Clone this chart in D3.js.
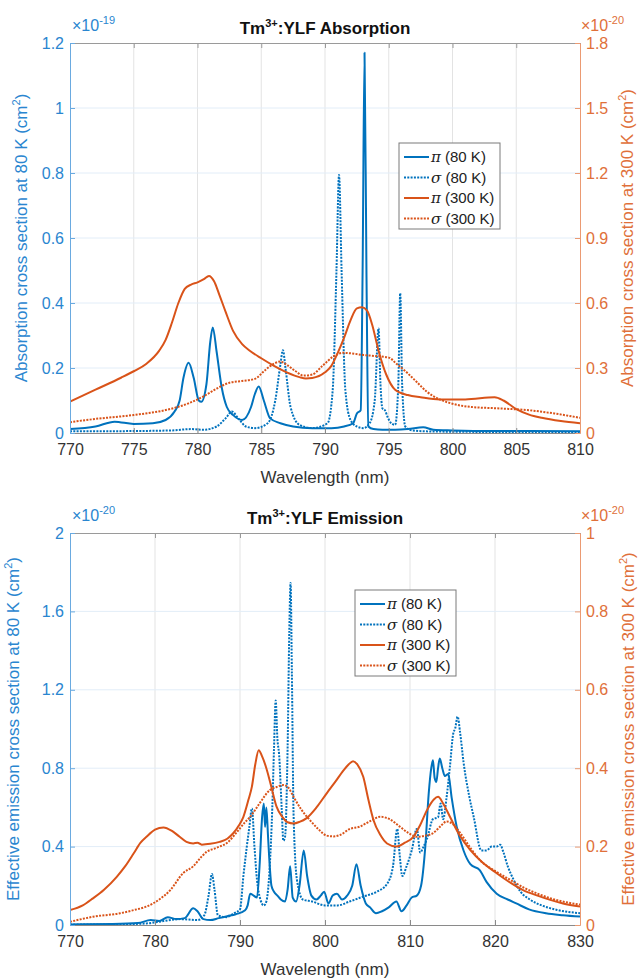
<!DOCTYPE html>
<html>
<head>
<meta charset="utf-8">
<script src="https://cdn.jsdelivr.net/npm/d3@7"></script>
<style>
  body { margin: 0; background: #fff; }
  svg { display: block; font-family: "Liberation Sans", Arial, Helvetica, sans-serif; }
</style>
</head>
<body>
<div id="chart-area"></div>
<script>
// ---------- absorption (top) ----------
// pi 80 K, left axis, x1e-19 cm^2
const absPi80Wl = [770, 772, 773.5, 775, 776.5, 777.5, 778.2, 778.6, 778.9, 779.3, 779.7, 780.1, 780.3, 780.7, 781.0, 781.2, 781.5, 781.9, 782.3, 782.8, 783.5, 784.2, 784.5, 784.8, 785.2, 785.7, 786.5, 787.5, 789, 790.5, 791.5, 792.2, 792.5, 792.8, 792.95, 793.1, 793.25, 793.4, 793.8, 794.5, 795.5, 796.5, 797.7, 798.5, 800, 803, 806, 810]
const absPi80 = [0.012, 0.02, 0.035, 0.028, 0.03, 0.04, 0.066, 0.1, 0.17, 0.216, 0.17, 0.1, 0.096, 0.15, 0.28, 0.325, 0.25, 0.14, 0.08, 0.055, 0.04, 0.08, 0.12, 0.143, 0.1, 0.045, 0.03, 0.02, 0.015, 0.015, 0.02, 0.03, 0.06, 0.07, 0.5, 1.17, 0.5, 0.02, 0.012, 0.01, 0.01, 0.012, 0.018, 0.01, 0.008, 0.006, 0.006, 0.005]

// sigma 80 K, left axis
const absSig80Wl = [770, 775, 778, 779.5, 780.5, 781.5, 782.2, 782.7, 783.2, 783.8, 784.5, 785.5, 786.1, 786.5, 786.7, 786.9, 787.3, 788, 789, 790.2, 790.6, 790.9, 791.1, 791.3, 791.6, 792, 792.5, 793, 793.5, 793.9, 794.2, 794.35, 794.5, 794.7, 794.9, 795.2, 795.5, 795.75, 795.9, 796.05, 796.3, 796.8, 798, 800, 805, 810]
const absSig80 = [0.005, 0.006, 0.008, 0.012, 0.01, 0.02, 0.045, 0.066, 0.045, 0.02, 0.015, 0.03, 0.1, 0.21, 0.255, 0.2, 0.08, 0.025, 0.015, 0.03, 0.13, 0.5, 0.794, 0.5, 0.13, 0.04, 0.02, 0.015, 0.03, 0.1, 0.322, 0.15, 0.076, 0.07, 0.05, 0.03, 0.025, 0.15, 0.43, 0.15, 0.02, 0.008, 0.005, 0.004, 0.003, 0.003]

// pi 300 K, right axis, x1e-20 cm^2
const absPi300Wl = [770, 772, 774, 775, 776, 777, 777.5, 778, 778.5, 779, 779.5, 780, 780.5, 780.9, 781.3, 781.7, 782.2, 782.8, 783.5, 784.1, 785, 786, 787, 788, 788.5, 789, 790, 790.5, 791, 791.5, 792, 792.5, 792.9, 793.3, 793.7, 794.2, 794.8, 795.5, 796.5, 797.5, 799, 801, 803.3, 804, 805, 806, 807, 808.5, 810]
const absPi300 = [0.145, 0.2, 0.255, 0.285, 0.32, 0.38, 0.43, 0.51, 0.6, 0.665, 0.685, 0.695, 0.71, 0.725, 0.7, 0.64, 0.56, 0.47, 0.41, 0.38, 0.345, 0.31, 0.28, 0.258, 0.252, 0.254, 0.28, 0.31, 0.37, 0.44, 0.52, 0.575, 0.58, 0.565, 0.5, 0.38, 0.27, 0.2, 0.175, 0.165, 0.155, 0.155, 0.165, 0.15, 0.11, 0.085, 0.07, 0.055, 0.045]

// sigma 300 K, right axis
const absSig300Wl = [770, 772, 775, 777.5, 779.3, 780.5, 781.5, 782.5, 783.5, 784.5, 785.3, 786, 786.5, 787, 787.7, 788.3, 789, 789.8, 790.7, 791.4, 792, 793, 794, 795, 795.6, 796.5, 797.2, 798, 799, 800, 801.5, 803.5, 806, 808, 810]
const absSig300 = [0.05, 0.065, 0.083, 0.106, 0.137, 0.17, 0.205, 0.232, 0.24, 0.25, 0.29, 0.32, 0.33, 0.315, 0.285, 0.265, 0.27, 0.31, 0.355, 0.37, 0.368, 0.36, 0.355, 0.348, 0.32, 0.275, 0.235, 0.19, 0.155, 0.135, 0.12, 0.114, 0.105, 0.09, 0.07]

// ---------- emission (bottom) ----------
// pi 80 K, left axis, x1e-20 cm^2
const emPi80Wl = [770, 775, 778, 779.5, 780.5, 781.5, 782.5, 783.5, 784.5, 785, 785.7, 786.5, 787.5, 788.5, 789.5, 790.6, 790.9, 791.2, 791.6, 792, 792.3, 792.6, 792.8, 792.95, 793.1, 793.3, 793.5, 793.7, 794, 794.4, 794.8, 795.3, 795.6, 795.9, 796.2, 796.6, 797, 797.5, 797.9, 798.4, 799, 799.5, 799.9, 800.4, 800.9, 801.4, 802, 802.6, 803.2, 803.7, 804.2, 804.8, 805.3, 806, 806.7, 807.5, 808.4, 809, 809.6, 810.2, 810.8, 811.3, 811.8, 812.2, 812.5, 812.7, 812.9, 813.1, 813.3, 813.5, 813.8, 814.1, 814.5, 814.9, 815.5, 816.3, 817.1, 818.2, 819, 820.2, 821.5, 822.5, 824, 826, 828, 830]
const emPi80 = [0.003, 0.005, 0.01, 0.025, 0.02, 0.04, 0.03, 0.035, 0.085, 0.07, 0.03, 0.025, 0.035, 0.045, 0.055, 0.075, 0.1, 0.16, 0.15, 0.14, 0.3, 0.55, 0.62, 0.5, 0.6, 0.45, 0.3, 0.2, 0.17, 0.15, 0.13, 0.12, 0.18, 0.3, 0.14, 0.12, 0.2, 0.38, 0.25, 0.15, 0.13, 0.15, 0.17, 0.11, 0.15, 0.16, 0.13, 0.15, 0.2, 0.31, 0.2, 0.11, 0.09, 0.06, 0.07, 0.09, 0.12, 0.07, 0.1, 0.14, 0.15, 0.2, 0.4, 0.67, 0.8, 0.84, 0.75, 0.73, 0.8, 0.85, 0.8, 0.76, 0.77, 0.65, 0.5, 0.38, 0.31, 0.28, 0.22, 0.16, 0.13, 0.11, 0.08, 0.06, 0.05, 0.043]

// sigma 80 K, left axis
const emSig80Wl = [770, 775, 779, 781, 783, 785, 785.8, 786.3, 786.7, 787, 787.4, 788.4, 789.3, 790, 790.4, 790.8, 791.1, 791.4, 791.7, 792, 792.4, 792.8, 793.1, 793.5, 793.8, 794.0, 794.2, 794.4, 794.6, 794.9, 795.1, 795.3, 795.6, 795.8, 795.95, 796.1, 796.3, 796.7, 797.4, 798.5, 800, 801.5, 802.9, 804.5, 806.1, 807.3, 808, 808.5, 808.8, 809.1, 809.6, 810.2, 810.8, 811.2, 811.6, 812, 812.7, 813.3, 813.6, 813.9, 814.3, 814.7, 815.1, 815.3, 815.6, 815.9, 816.3, 817, 817.5, 818.4, 819, 819.6, 820.2, 820.6, 821, 821.5, 822.2, 823, 824.1, 825.5, 827.3, 830]
const emSig80 = [0.002, 0.003, 0.008, 0.02, 0.03, 0.025, 0.05, 0.15, 0.26, 0.18, 0.05, 0.04, 0.06, 0.08, 0.25, 0.4, 0.5, 0.595, 0.4, 0.23, 0.13, 0.1, 0.12, 0.3, 0.6, 0.9, 1.145, 0.95, 0.87, 0.6, 0.43, 0.45, 0.9, 1.5, 1.745, 1.3, 0.57, 0.23, 0.13, 0.12, 0.1, 0.1, 0.12, 0.145, 0.17, 0.21, 0.3, 0.49, 0.35, 0.25, 0.3, 0.38, 0.49, 0.37, 0.4, 0.44, 0.54, 0.55, 0.62, 0.54, 0.65, 0.81, 0.98, 1.0, 1.063, 0.98, 0.83, 0.65, 0.55, 0.38, 0.38, 0.4, 0.4, 0.41, 0.37, 0.3, 0.23, 0.17, 0.13, 0.1, 0.077, 0.06]

// pi 300 K, right axis, x1e-20 cm^2
const emPi300Wl = [770, 771.5, 772.7, 774, 775.5, 776.5, 777.5, 778.3, 779, 780, 781, 782, 782.9, 783.7, 784.5, 785, 785.5, 786.5, 787.6, 788.5, 789.2, 789.9, 790.4, 791, 791.4, 791.8, 792.2, 792.6, 793.1, 793.6, 794.3, 795, 795.6, 796.3, 797, 797.8, 799, 800.2, 801.2, 802.2, 802.8, 803.3, 803.8, 804.5, 805.1, 805.7, 806.5, 807.3, 808.4, 809.4, 810.4, 811.2, 812, 812.8, 813.3, 813.9, 814.7, 815.8, 817.1, 818.5, 820.2, 821.8, 823.3, 825, 826.5, 828, 830]
const emPi300 = [0.038, 0.05, 0.068, 0.09, 0.123, 0.15, 0.183, 0.21, 0.225, 0.243, 0.249, 0.24, 0.225, 0.212, 0.208, 0.21, 0.205, 0.207, 0.212, 0.22, 0.234, 0.255, 0.276, 0.32, 0.353, 0.41, 0.446, 0.43, 0.4, 0.36, 0.302, 0.275, 0.262, 0.259, 0.263, 0.272, 0.3, 0.336, 0.365, 0.395, 0.41, 0.418, 0.41, 0.378, 0.32, 0.268, 0.23, 0.208, 0.2, 0.21, 0.225, 0.255, 0.293, 0.32, 0.327, 0.31, 0.276, 0.23, 0.191, 0.16, 0.132, 0.108, 0.089, 0.075, 0.064, 0.055, 0.047]

// sigma 300 K, right axis
const emSig300Wl = [770, 772.7, 775.9, 777.5, 779, 780.5, 781.8, 783.3, 784.5, 785.5, 786.1, 787, 787.6, 788.5, 789.6, 790.5, 791.2, 792.3, 793.5, 794.3, 795.1, 795.7, 796.3, 797.2, 798.2, 799.2, 800.2, 801, 801.8, 802.9, 804.1, 805.3, 806.5, 807.6, 808.8, 809.8, 810.8, 811.8, 812.7, 813.5, 814.3, 815, 815.9, 817, 818.2, 820, 821.8, 823.5, 825, 827, 830]
const emSig300 = [0.008, 0.021, 0.03, 0.038, 0.047, 0.065, 0.089, 0.132, 0.15, 0.175, 0.187, 0.195, 0.2, 0.21, 0.236, 0.26, 0.276, 0.31, 0.344, 0.352, 0.357, 0.35, 0.327, 0.295, 0.268, 0.245, 0.228, 0.226, 0.23, 0.245, 0.251, 0.265, 0.276, 0.27, 0.251, 0.235, 0.225, 0.228, 0.234, 0.25, 0.264, 0.258, 0.235, 0.2, 0.166, 0.138, 0.115, 0.094, 0.08, 0.065, 0.052]

// ticks
const absWlTicks = [770, 775, 780, 785, 790, 795, 800, 805, 810]
const absLeftTicks = [0, 0.2, 0.4, 0.6, 0.8, 1, 1.2]
const absRightTicks = [0, 0.3, 0.6, 0.9, 1.2, 1.5, 1.8]
const emWlTicks = [770, 780, 790, 800, 810, 820, 830]
const emLeftTicks = [0, 0.4, 0.8, 1.2, 1.6, 2]
const emRightTicks = [0, 0.2, 0.4, 0.6, 0.8, 1]

const legendSymbols = ["π", "σ", "π", "σ"]
const legendTemps = ["(80 K)", "(80 K)", "(300 K)", "(300 K)"]

const BLUE = "#0072BD"
const ORANGE = "#D95319"
const BLUE_TXT = "#2a86d0"
const ORANGE_TXT = "#e0703a"

const svg = d3.select("#chart-area").append("svg")
  .attr("width", 640)
  .attr("height", 978)

function drawPanel(p) {
  const x = d3.scaleLinear().domain(d3.extent(p.xTicks)).range([p.left, p.right])
  const yL = d3.scaleLinear().domain(d3.extent(p.yLTicks)).range([p.bottom, p.top])
  const yR = d3.scaleLinear().domain(d3.extent(p.yRTicks)).range([p.bottom, p.top])

  const g = svg.append("g")

  // grid
  g.selectAll(".vgrid").data(p.xTicks.slice(1, -1)).enter().append("line")
    .attr("x1", d => x(d)).attr("x2", d => x(d))
    .attr("y1", p.top).attr("y2", p.bottom)
    .attr("stroke", "#e3e3e3")
  g.selectAll(".hgrid").data(p.yLTicks.slice(1, -1)).enter().append("line")
    .attr("x1", p.left).attr("x2", p.right)
    .attr("y1", d => yL(d)).attr("y2", d => yL(d))
    .attr("stroke", "#e2edf8")

  // curves
  const clipId = "clip" + p.id
  svg.append("clipPath").attr("id", clipId).append("rect")
    .attr("x", p.left).attr("y", p.top)
    .attr("width", p.right - p.left).attr("height", p.bottom - p.top)

  const lines = g.append("g").attr("clip-path", `url(#${clipId})`)
  p.series.forEach(s => {
    const y = s.axis === "left" ? yL : yR
    const line = d3.line()
      .x(d => x(d[0]))
      .y(d => y(d[1]))
      .curve(d3.curveMonotoneX)
    lines.append("path")
      .datum(d3.zip(s.wl, s.values))
      .attr("d", line)
      .attr("fill", "none")
      .attr("stroke", s.color)
      .attr("stroke-width", 2)
      .attr("stroke-linejoin", "round")
      .attr("stroke-dasharray", s.dotted ? "2,1.3" : null)
  })

  // x axes
  const xb = g.append("g")
    .attr("transform", `translate(0, ${p.bottom})`)
    .call(d3.axisBottom(x).tickValues(p.xTicks).tickSize(-5).tickSizeOuter(0).tickPadding(11).tickFormat(d => d))
  xb.select(".domain").attr("stroke", "#8a8a8a")
  xb.selectAll(".tick line").attr("stroke", "#8a8a8a")
  xb.selectAll("text").attr("fill", "#333").style("font-size", "16px")

  const xt = g.append("g")
    .attr("transform", `translate(0, ${p.top})`)
    .call(d3.axisTop(x).tickValues(p.xTicks).tickSize(-5).tickSizeOuter(0).tickFormat(""))
  xt.select(".domain").attr("stroke", "#9a9a9a")
  xt.selectAll(".tick line").attr("stroke", "#9a9a9a")

  // y axes
  const yl = g.append("g")
    .attr("transform", `translate(${p.left}, 0)`)
    .call(d3.axisLeft(yL).tickValues(p.yLTicks).tickSize(-5).tickSizeOuter(0).tickPadding(6).tickFormat(d => d))
  yl.select(".domain").attr("stroke", "#6aaae0")
  yl.selectAll(".tick line").attr("stroke", "#6aaae0")
  yl.selectAll("text").attr("fill", BLUE_TXT).style("font-size", "16px")

  const yr = g.append("g")
    .attr("transform", `translate(${p.right}, 0)`)
    .call(d3.axisRight(yR).tickValues(p.yRTicks).tickSize(-5).tickSizeOuter(0).tickPadding(6).tickFormat(d => d))
  yr.select(".domain").attr("stroke", "#eb9a72")
  yr.selectAll(".tick line").attr("stroke", "#eb9a72")
  yr.selectAll("text").attr("fill", ORANGE_TXT).style("font-size", "16px")

  // exponent labels
  const expL = g.append("text")
    .attr("x", p.left + 2).attr("y", p.top - 12)
    .attr("fill", BLUE_TXT).style("font-size", "16px")
  expL.append("tspan").text("×10")
  expL.append("tspan").attr("dy", -7).style("font-size", "11px").text(p.expL)

  const expR = g.append("text")
    .attr("x", p.right + 1).attr("y", p.top - 12)
    .attr("fill", ORANGE_TXT).style("font-size", "16px")
  expR.append("tspan").text("×10")
  expR.append("tspan").attr("dy", -7).style("font-size", "11px").text(p.expR)

  // title
  const title = g.append("text")
    .attr("x", (p.left + p.right) / 2).attr("y", p.top - 9)
    .attr("text-anchor", "middle")
    .style("font-size", "17px").style("font-weight", "bold")
    .attr("fill", "#111")
  title.append("tspan").text("Tm")
  title.append("tspan").attr("dy", -7).style("font-size", "11px").text("3+")
  title.append("tspan").attr("dy", 7).text(p.title)

  // x label
  g.append("text")
    .attr("x", (p.left + p.right) / 2).attr("y", p.bottom + 50)
    .attr("text-anchor", "middle")
    .style("font-size", "17px")
    .attr("fill", "#333")
    .text("Wavelength (nm)")

  // y labels
  const yMid = (p.top + p.bottom) / 2
  const addYLabel = (xPos, txt, color) => {
    const t = g.append("text")
      .attr("transform", `translate(${xPos}, ${yMid}) rotate(-90)`)
      .attr("text-anchor", "middle")
      .style("font-size", "17px")
      .attr("fill", color)
    t.append("tspan").text(txt + " (cm")
    t.append("tspan").attr("dy", -7).style("font-size", "11px").text("2")
    t.append("tspan").attr("dy", 7).text(")")
  }
  addYLabel(p.yLabelLX, p.yLabelL, BLUE_TXT)
  addYLabel(p.yLabelRX, p.yLabelR, ORANGE_TXT)

  // legend
  const lg = g.append("g").attr("transform", `translate(${p.legend[0]}, ${p.legend[1]})`)
  lg.append("rect")
    .attr("width", 101).attr("height", 86)
    .attr("fill", "#fff").attr("stroke", "#7a7a7a")
  p.series.forEach((s, i) => {
    const yy = 14 + i * 20.5
    lg.append("line")
      .attr("x1", 5).attr("x2", 30).attr("y1", yy).attr("y2", yy)
      .attr("stroke", s.color).attr("stroke-width", 2)
      .attr("stroke-dasharray", s.dotted ? "2,1.3" : null)
    const t = lg.append("text")
      .attr("x", 32).attr("y", yy + 5)
      .style("font-size", "15px").attr("fill", "#222")
    t.append("tspan").style("font-family", "'DejaVu Serif', serif").style("font-style", "italic").text(legendSymbols[i])
    t.append("tspan").text(" " + legendTemps[i])
  })
}

drawPanel({
  id: "abs", left: 70, right: 580, top: 43, bottom: 433,
  xTicks: absWlTicks, yLTicks: absLeftTicks, yRTicks: absRightTicks,
  expL: "-19", expR: "-20",
  title: ":YLF Absorption",
  yLabelL: "Absorption cross section at 80 K", yLabelLX: 27,
  yLabelR: "Absorption cross section at 300 K", yLabelRX: 633,
  legend: [399, 143],
  series: [
    { wl: absPi80Wl, values: absPi80, axis: "left", color: BLUE, dotted: false },
    { wl: absSig80Wl, values: absSig80, axis: "left", color: BLUE, dotted: true },
    { wl: absPi300Wl, values: absPi300, axis: "right", color: ORANGE, dotted: false },
    { wl: absSig300Wl, values: absSig300, axis: "right", color: ORANGE, dotted: true }
  ]
})

drawPanel({
  id: "em", left: 70, right: 580, top: 533, bottom: 925,
  xTicks: emWlTicks, yLTicks: emLeftTicks, yRTicks: emRightTicks,
  expL: "-20", expR: "-20",
  title: ":YLF Emission",
  yLabelL: "Effective emission cross section at 80 K", yLabelLX: 19,
  yLabelR: "Effective emission cross section at 300 K", yLabelRX: 634,
  legend: [355, 590],
  series: [
    { wl: emPi80Wl, values: emPi80, axis: "left", color: BLUE, dotted: false },
    { wl: emSig80Wl, values: emSig80, axis: "left", color: BLUE, dotted: true },
    { wl: emPi300Wl, values: emPi300, axis: "right", color: ORANGE, dotted: false },
    { wl: emSig300Wl, values: emSig300, axis: "right", color: ORANGE, dotted: true }
  ]
})
</script>
</body>
</html>
